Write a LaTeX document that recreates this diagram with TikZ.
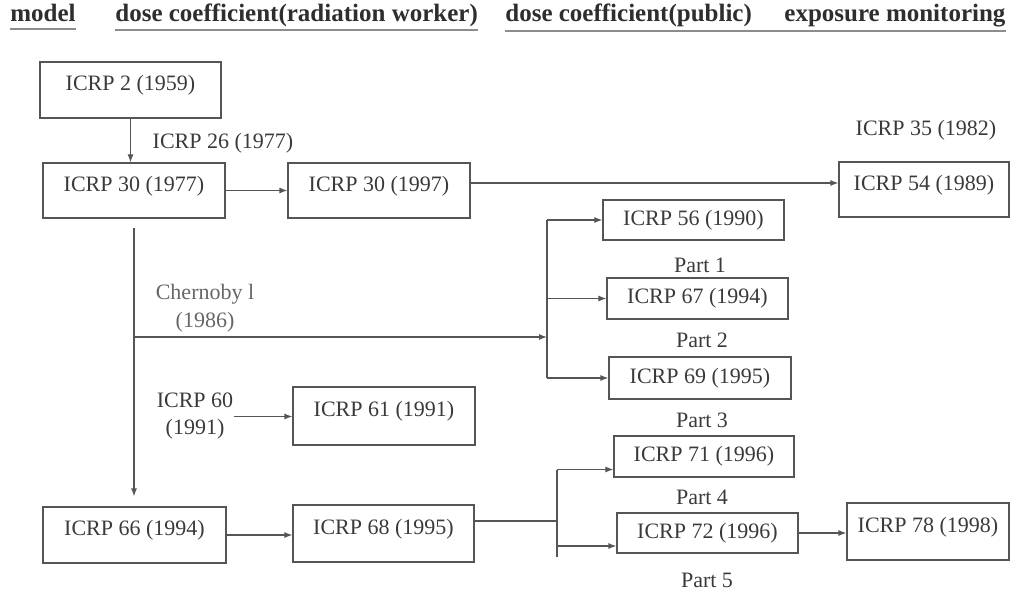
\documentclass[tikz,border=0pt]{standalone}
\usepackage{fontspec}
\setmainfont{Liberation Serif}
\usepackage{xcolor}
\usetikzlibrary{arrows.meta,calc}
\definecolor{inkgray}{HTML}{3A3A3A}
\definecolor{linegray}{HTML}{555555}
\tikzset{
  box/.style={draw=linegray, line width=0.6pt, rectangle, inner sep=0pt, text=inkgray, font=\fontsize{11}{13}\selectfont},
  tallbox/.style={box, text height=8pt, text depth=7.3pt},
  lbl/.style={text=inkgray, inner sep=0pt, align=center, font=\fontsize{11}{13.5}\selectfont},
  head/.style={text=black!82, inner sep=0pt, anchor=base west, font=\fontsize{12.5}{14}\selectfont\bfseries},
  uline/.style={draw=black!45, line width=0.6pt},
  conn/.style={draw=linegray, line width=0.6pt},
  arr/.style={conn, -{Latex[length=4pt,width=3pt]}}}

\begin{document}
\begin{tikzpicture}[x=0.5pt,y=-0.5pt]
\useasboundingbox (0,0) rectangle (1011,593);

% column heads
\node[head] (hmodel) at (10,22) {model};
\node[head] (hwork) at (115,22) {dose coefficient(radiation worker)};
\node[head] (hpub) at (505,22) {dose coefficient(public)};
\node[head] (hexp) at (784,22) {exposure monitoring};
\draw[uline] ([yshift=-3.5pt]hmodel.base west) -- ([yshift=-3.5pt]hmodel.base east);
\draw[uline] ([yshift=-4pt]hwork.base west) -- ([yshift=-4pt]hwork.base east);
\draw[uline] ([yshift=-4.5pt]hpub.base west) -- ([yshift=-4.5pt]hexp.base east);

% boxes
\node[tallbox, minimum width=90.5pt, minimum height=28pt] (icrp2) at (130.5,90) {ICRP 2 (1959)};
\node[tallbox, minimum width=91pt, minimum height=27.5pt] (icrp30a) at (134,190.5) {ICRP 30 (1977)};
\node[tallbox, minimum width=91pt, minimum height=27.5pt] (icrp30b) at (379,190.5) {ICRP 30 (1997)};
\node[tallbox, minimum width=85pt, minimum height=27.5pt] (icrp54) at (924,189.5) {ICRP 54 (1989)};
\node[box, minimum width=90.5pt, minimum height=20pt] (icrp56) at (693.5,220) {ICRP 56 (1990)};
\node[box, minimum width=90.5pt, minimum height=20.5pt] (icrp67) at (697.5,298.5) {ICRP 67 (1994)};
\node[box, minimum width=91pt, minimum height=21pt] (icrp69) at (700,378) {ICRP 69 (1995)};
\node[tallbox, minimum width=91pt, minimum height=29pt] (icrp61) at (384,416) {ICRP 61 (1991)};
\node[box, minimum width=90pt, minimum height=20.5pt] (icrp71) at (704,456.5) {ICRP 71 (1996)};
\node[tallbox, minimum width=91.5pt, minimum height=28pt] (icrp66) at (134.5,535) {ICRP 66 (1994)};
\node[tallbox, minimum width=90.5pt, minimum height=28.5pt] (icrp68) at (383.5,533.5) {ICRP 68 (1995)};
\node[box, minimum width=90.5pt, minimum height=20pt] (icrp72) at (707.5,533) {ICRP 72 (1996)};
\node[tallbox, minimum width=81pt, minimum height=28.5pt] (icrp78) at (928,531.5) {ICRP 78 (1998)};

% side labels
\node[lbl] (l26) at (223,143) {ICRP 26 (1977)};
\node[lbl] (l35) at (926,130) {ICRP 35 (1982)};
\node[lbl, text=black!60, font=\fontsize{11}{14}\selectfont] (chern) at (205,308) {Chernoby l\\(1986)};
\node[lbl] (l60) at (195,416.5) {ICRP 60\\(1991)};
\node[lbl] (part1) at (700,265) {Part 1};
\node[lbl] (part2) at (702,340) {Part 2};
\node[lbl] (part3) at (702,420) {Part 3};
\node[lbl] (part4) at (702,497) {Part 4};
\node[lbl] (part5) at (707,580) {Part 5};

\coordinate (fork1) at (547,337);
\coordinate (fork2) at (557,521);
\coordinate (end2) at (557,557);
\coordinate (in71) at ([yshift=-6.5pt]icrp71.west);
\coordinate (in72) at ([yshift=-6.5pt]icrp72.west);

% connectors
\draw[arr] (icrp2.south) -- (icrp2.south |- icrp30a.north);
\draw[arr] (icrp30a.east) -- (icrp30b.west);
\draw[arr] ([yshift=3.75pt]icrp30b.east) -- ([yshift=3.75pt]icrp30b.east -| icrp54.west);
\draw[arr, shorten <=4.5pt, shorten >=5pt] (icrp30a.south) -- (icrp30a.south |- icrp66.north);
\draw[arr] (icrp30a.south |- fork1) -- (fork1);
\draw[conn] (fork1 |- icrp56.west) -- (fork1 |- icrp69.west);
\foreach \b in {icrp56,icrp67,icrp69}
  \draw[arr] (fork1 |- \b.west) -- (\b.west);
\draw[arr] (l60.east) -- (l60.east -| icrp61.west);
\draw[arr] (icrp66.east) -- (icrp66.east -| icrp68.west);
\draw[conn] (icrp68.east |- fork2) -- (fork2);
\draw[conn] (fork2 |- in71) -- (end2);
\draw[arr] (fork2 |- in71) -- (in71);
\draw[arr] (fork2 |- in72) -- (in72);
\draw[arr] (icrp72.east) -- (icrp72.east -| icrp78.west);
\end{tikzpicture}
\end{document}
